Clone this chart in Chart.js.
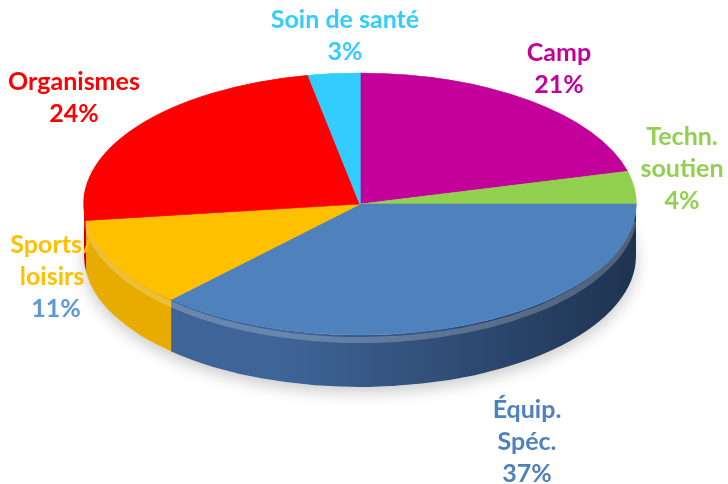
<!DOCTYPE html>
<html>
<head>
<meta charset="utf-8">
<script src="https://cdn.jsdelivr.net/npm/chart.js@4.4.0/dist/chart.umd.min.js"></script>
<style>
  html, body { margin: 0; padding: 0; background: #fff; }
</style>
</head>
<body>
<canvas id="myChart" width="728" height="484"></canvas>
<script>
// Data, clockwise from 12 o'clock
const categories = ["Camp", "Techn. soutien", "Équip. Spéc.", "Sports/ loisirs", "Organismes", "Soin de santé"];
const shares = [21, 4, 37, 11, 24, 3];
const nameLines = [["Camp"], ["Techn.", "soutien"], ["Équip.", "Spéc."], ["Sports/", "loisirs"], ["Organismes"], ["Soin de santé"]];

// Styles
const topColors = ["#C3009A", "#92D050", "#4F81BD", "#FFC000", "#FF0000", "#33CCFF"];
const sideColors = [
    ["#9C007B", "#6A0054"], ["#74A63F", "#4F722B"], ["#3F6598", "#1E3350"],
    ["#E8AC00", "#C99400"], ["#D00000", "#8C0000"], ["#28A6D0", "#1B708C"]
];
const labelColors = ["#C3009A", "#92D050", "#4F81BD", "#FFC000", "#FF0000", "#33CCFF"];
const pctColors = ["#C3009A", "#92D050", "#4F81BD", "#5B9BD5", "#FF0000", "#33CCFF"];
// label anchor (centre of first line) and percent-line x shift
const labelPos = [[559, 53], [682, 137], [527, 410], [52, 245], [74, 82], [345, 20]];
const pctShift = [0, 0, 0, 4, 0, 0];

// 3D look
const rx = 276, ry = 131, depth = 52, lineH = 32;

const pie3d = {
    id: "pie3d",
    beforeDatasetsDraw(chart) {
        const ctx = chart.ctx;
        const arcs = chart.getDatasetMeta(0).data;
        const cx = arcs[0].x, cy = arcs[0].y, r = arcs[0].outerRadius;

        // soft shadow under the pie
        ctx.save();
        ctx.shadowColor = "rgba(0,0,0,0.22)";
        ctx.shadowBlur = 16;
        ctx.shadowOffsetY = 5;
        ctx.fillStyle = "#fff";
        ctx.beginPath();
        ctx.ellipse(cx, cy + depth, rx, ry, 0, 0, 2 * Math.PI);
        ctx.fill();
        ctx.restore();

        // side walls (front half only)
        arcs.forEach((a, i) => {
            const s = Math.max(a.startAngle, 0);
            const e = Math.min(a.endAngle, Math.PI);
            if (e <= s) return;
            const g = ctx.createLinearGradient(cx - rx, 0, cx + rx, 0);
            g.addColorStop(0, sideColors[i][0]);
            g.addColorStop(0.35, sideColors[i][0]);
            g.addColorStop(1, sideColors[i][1]);
            ctx.beginPath();
            ctx.ellipse(cx, cy, rx, ry, 0, s, e);
            ctx.ellipse(cx, cy + depth, rx, ry, 0, e, s, true);
            ctx.closePath();
            ctx.fillStyle = g;
            ctx.fill();
        });

        // bevel highlight just under the front rim
        ctx.save();
        ctx.beginPath();
        ctx.ellipse(cx, cy + 5, rx - 1, ry, 0, 0.03 * Math.PI, 0.97 * Math.PI);
        ctx.strokeStyle = "rgba(255,255,255,0.22)";
        ctx.lineWidth = 6;
        ctx.stroke();
        ctx.restore();

        // squash the library's round pie into the top face
        ctx.save();
        ctx.translate(cx, cy);
        ctx.scale(rx / r, ry / r);
        ctx.translate(-cx, -cy);
    },
    afterDatasetsDraw(chart) {
        const ctx = chart.ctx;
        ctx.restore();

        ctx.save();
        ctx.font = "bold 25px Lato";
        ctx.textAlign = "center";
        ctx.textBaseline = "middle";
        nameLines.forEach((lines, i) => {
            const [x, y] = labelPos[i];
            ctx.fillStyle = labelColors[i];
            lines.forEach((t, k) => ctx.fillText(t, x, y + k * lineH));
            ctx.fillStyle = pctColors[i];
            ctx.fillText(shares[i] + "%", x + pctShift[i], y + lines.length * lineH);
        });
        ctx.restore();
    }
};

const ctx = document.getElementById("myChart").getContext("2d");
const chart = new Chart(ctx, {
    type: "pie",
    data: {
        labels: categories,
        datasets: [{
            data: shares,
            backgroundColor: topColors,
            borderColor: topColors,
            borderWidth: 1
        }]
    },
    options: {
        responsive: false,
        animation: false,
        layout: { padding: { left: 0, right: 8, top: 0, bottom: 76 } },
        plugins: {
            legend: { display: false },
            tooltip: { enabled: false }
        }
    },
    plugins: [pie3d]
});
</script>
</body>
</html>
